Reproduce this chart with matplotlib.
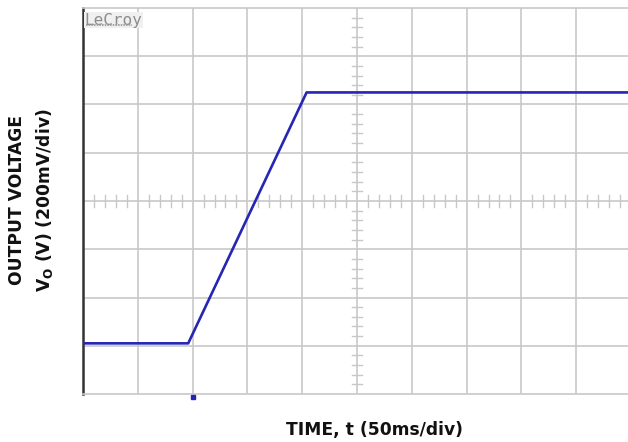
import matplotlib
matplotlib.use("Agg")
import matplotlib.pyplot as plt
import numpy as np

# scope trace, time in ms, voltage in V relative to screen centre
time_ms = [0, 96, 204, 500]
volts = [-0.59, -0.59, 0.45, 0.45]
trigger_ms = 100

ms_per_div = 50
v_per_div = 0.2
n_xdiv = 10
n_ydiv = 8

xlabel = "TIME, t (50ms/div)"
ylabel = "OUTPUT VOLTAGE\nV$_\\mathregular{O}$ (V) (200mV/div)"

fig = plt.figure(figsize=(6.28, 4.42), dpi=100)
W, H = 628, 442
# axes in pixels: left 83, width 548 (runs a bit past the right edge), top 8, bottom 394
ax = fig.add_axes([83 / W, (H - 394) / H, 548 / W, 386 / H])

xmax = n_xdiv * ms_per_div
ymax = n_ydiv / 2 * v_per_div
ax.set_xlim(0, xmax)
ax.set_ylim(-ymax, ymax)

grid_col = "#c8c8c8"
for i in range(1, n_xdiv):
    ax.axvline(i * ms_per_div, color=grid_col, lw=1.2, zorder=1)
for j in range(1, n_ydiv):
    ax.axhline(-ymax + j * v_per_div, color=grid_col, lw=1.2, zorder=1)

# minor ticks on the centre cross
cx = xmax / 2
dx = 5 * (xmax / 548)       # ~5 px half width
dy = 6 * (2 * ymax / 386)   # ~6 px half height
for k in range(n_xdiv * 5 + 1):
    if k % 5:
        x = k * ms_per_div / 5
        ax.plot([x, x], [-dy, dy], color=grid_col, lw=1.0, zorder=1)
for k in range(n_ydiv * 5 + 1):
    if k % 5:
        y = -ymax + k * v_per_div / 5
        ax.plot([cx - dx, cx + dx], [y, y], color=grid_col, lw=1.0, zorder=1)

ax.plot(time_ms, volts, color="#2626b4", lw=1.9, zorder=3)
ax.plot([trigger_ms], [-ymax - 0.012], marker="s", ms=2.5, color="#2626b4",
        clip_on=False, zorder=4)

for s in ["top", "bottom", "right"]:
    ax.spines[s].set_color(grid_col)
    ax.spines[s].set_linewidth(1.2)
ax.spines["left"].set_color("#333333")
ax.spines["left"].set_linewidth(1.8)
ax.set_xticks([])
ax.set_yticks([])

# LeCroy logo, top left of the screen
ax.text(0.003, 0.988, "LeCroy", transform=ax.transAxes, ha="left", va="top",
        fontsize=11.5, color="#8c8c8c", family="DejaVu Sans Mono",
        bbox=dict(facecolor="#f0f0f0", edgecolor="none", pad=0.5))
ax.plot([0.006, 0.09], [0.955, 0.955], transform=ax.transAxes,
        color="#9a9a9a", lw=1.2, ls=(0, (1, 0.6)), zorder=4)

fig.text(375 / W, 1 - 430 / H, xlabel, ha="center", va="center",
         fontsize=12.3, fontweight="bold", color="#111111")
fig.text(32 / W, 1 - 200 / H, ylabel, ha="center", va="center", rotation=90,
         fontsize=12.3, fontweight="bold", color="#111111", linespacing=1.5,
         multialignment="center")

fig.savefig("out.png", dpi=100)
